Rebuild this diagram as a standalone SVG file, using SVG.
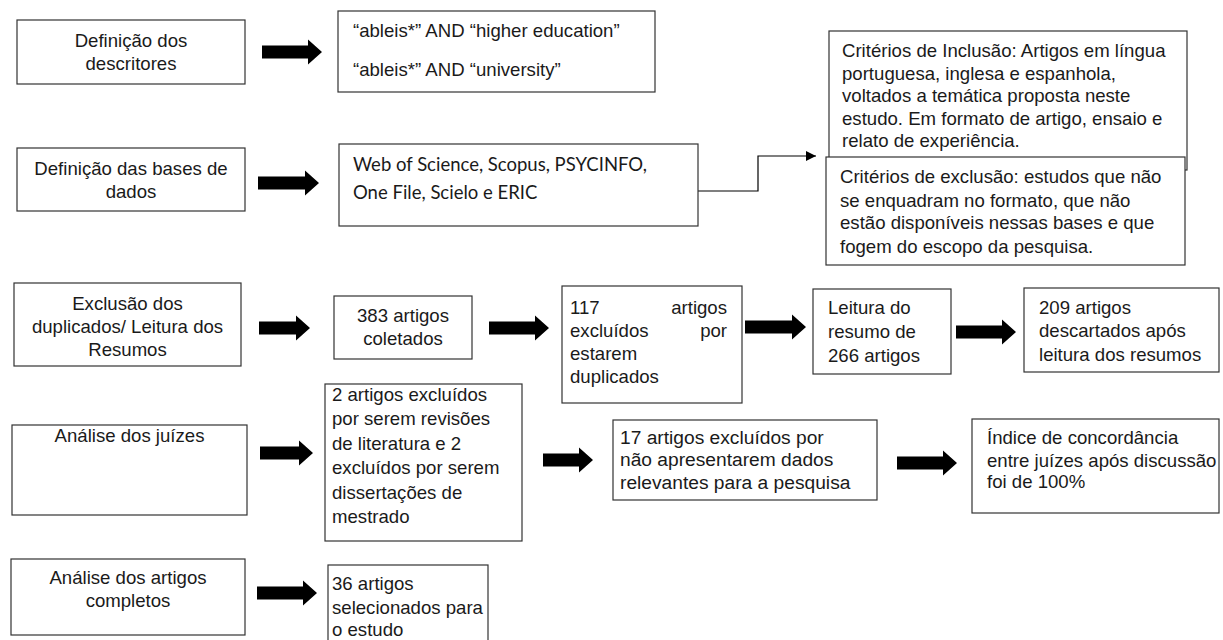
<svg xmlns="http://www.w3.org/2000/svg" width="1223" height="640" viewBox="0 0 1223 640">
<defs>
<style>
.box{fill:#fff;stroke:#333;stroke-width:1.2}
.t{font-family:"Liberation Sans",Arial,sans-serif;font-size:18.6px;fill:#1a1a1a}
.big{font-size:19.2px}
.c{text-anchor:middle}
.e{text-anchor:end}
.cal{font-family:Lato,"Open Sans",sans-serif;font-size:18.5px;fill:#1a1a1a}
.blk{fill:#000}
.ln{fill:none;stroke:#000;stroke-width:1.2}
</style>
<marker id="ah" viewBox="0 0 10 10" refX="10" refY="5" markerWidth="10" markerHeight="10" markerUnits="userSpaceOnUse" orient="auto">
<path d="M0,0 L10,5 L0,10 Z" fill="#000"/>
</marker>
</defs>
<rect width="1223" height="640" fill="#fff"/>

<g id="connectors">
<path class="blk" d="M262,45.5 H308 V39.5 L322,52 L308,64.5 V58.5 H262 Z"/>
<path class="blk" d="M258,176.5 H305 V170.5 L319,183 L305,195.5 V189.5 H258 Z"/>
<path class="blk" d="M259,321.5 H296 V315.5 L310,328 L296,340.5 V334.5 H259 Z"/>
<path class="blk" d="M489,321.5 H535 V315.5 L549,328 L535,340.5 V334.5 H489 Z"/>
<path class="blk" d="M745,320.5 H792 V314.5 L806,327 L792,339.5 V333.5 H745 Z"/>
<path class="blk" d="M956,325.5 H1002 V319.5 L1016,332 L1002,344.5 V338.5 H956 Z"/>
<path class="blk" d="M260,446.5 H299 V440.5 L313,453 L299,465.5 V459.5 H260 Z"/>
<path class="blk" d="M543,453.5 H579 V447.5 L593,460 L579,472.5 V466.5 H543 Z"/>
<path class="blk" d="M897,456.5 H943 V450.5 L957,463 L943,475.5 V469.5 H897 Z"/>
<path class="blk" d="M257,586.5 H303 V580.5 L317,593 L303,605.5 V599.5 H257 Z"/>
<polyline class="ln" points="698,191 758,191 758,156 816,156" marker-end="url(#ah)"/>
</g>

<g id="n-descritores">
<rect class="box" x="17" y="20" width="228" height="64"/>
<text class="t c" x="131" y="47">Definição dos</text>
<text class="t c" x="131" y="70">descritores</text>
</g>

<g id="n-termos">
<rect class="box" x="338" y="11" width="317" height="81"/>
<text class="t" x="353" y="37">“ableis*” AND “higher education”</text>
<text class="t" x="353" y="76">“ableis*” AND “university”</text>
</g>

<g id="n-inclusao">
<rect class="box" x="829" y="31" width="358" height="139"/>
<text class="t" x="842" y="57">Critérios de Inclusão: Artigos em língua</text>
<text class="t" x="842" y="79.5">portuguesa, inglesa e espanhola,</text>
<text class="t" x="842" y="102">voltados a temática proposta neste</text>
<text class="t" x="842" y="124.5">estudo. Em formato de artigo, ensaio e</text>
<text class="t" x="842" y="147">relato de experiência.</text>
</g>

<g id="n-exclusao">
<rect class="box" x="826" y="157" width="359" height="108"/>
<text class="t" x="840" y="183">Critérios de exclusão: estudos que não</text>
<text class="t" x="840" y="206.5">se enquadram no formato, que não</text>
<text class="t" x="840" y="229">estão disponíveis nessas bases e que</text>
<text class="t" x="840" y="252.5">fogem do escopo da pesquisa.</text>
</g>

<g id="n-bases">
<rect class="box" x="17" y="148" width="228" height="63"/>
<text class="t c" x="131" y="174.5">Definição das bases de</text>
<text class="t c" x="131" y="197.5">dados</text>
</g>

<g id="n-bases-lista">
<rect class="box" x="339" y="144" width="359" height="82"/>
<text class="cal" x="353" y="171">Web of Science, Scopus, PSYCINFO,</text>
<text class="cal" x="353" y="199">One File, Scielo e ERIC</text>
</g>

<g id="n-exclusao-dup">
<rect class="box" x="14" y="283" width="227" height="83"/>
<text class="t c" x="127.5" y="310">Exclusão dos</text>
<text class="t c" x="127.5" y="333">duplicados/ Leitura dos</text>
<text class="t c" x="127.5" y="356">Resumos</text>
</g>

<g id="n-383">
<rect class="box" x="334" y="296" width="138" height="63"/>
<text class="t c" x="403" y="321.5">383 artigos</text>
<text class="t c" x="403" y="344.5">coletados</text>
</g>

<g id="n-117">
<rect class="box" x="562" y="286" width="180" height="117"/>
<text class="t" x="570" y="313.5">117</text>
<text class="t e" x="727" y="313.5">artigos</text>
<text class="t" x="570" y="336.5">excluídos</text>
<text class="t e" x="727" y="336.5">por</text>
<text class="t" x="570" y="359.5">estarem</text>
<text class="t" x="570" y="382.5">duplicados</text>
</g>

<g id="n-leitura">
<rect class="box" x="813" y="289" width="138" height="85"/>
<text class="t" x="828" y="314">Leitura do</text>
<text class="t" x="828" y="338">resumo de</text>
<text class="t" x="828" y="362">266 artigos</text>
</g>

<g id="n-209">
<rect class="box" x="1024" y="288" width="195" height="84"/>
<text class="t" x="1039" y="313.5">209 artigos</text>
<text class="t" x="1039" y="337">descartados após</text>
<text class="t" x="1039" y="360.5">leitura dos resumos</text>
</g>

<g id="n-juizes">
<rect class="box" x="12" y="425" width="235" height="90"/>
<text class="t c" x="129.5" y="441.5">Análise dos juízes</text>
</g>

<g id="n-2artigos">
<rect class="box" x="325" y="384" width="197" height="157"/>
<text class="t" x="332" y="401">2 artigos excluídos</text>
<text class="t" x="332" y="425.4">por serem revisões</text>
<text class="t" x="332" y="449.8">de literatura e 2</text>
<text class="t" x="332" y="474.2">excluídos por serem</text>
<text class="t" x="332" y="498.6">dissertações de</text>
<text class="t" x="332" y="523">mestrado</text>
</g>

<g id="n-17">
<rect class="box" x="613" y="420" width="264" height="80"/>
<text class="t big" x="620" y="443.5">17 artigos excluídos por</text>
<text class="t big" x="620" y="466">não apresentarem dados</text>
<text class="t big" x="620" y="488.5">relevantes para a pesquisa</text>
</g>

<g id="n-indice">
<rect class="box" x="972" y="419" width="247" height="94"/>
<text class="t" x="987" y="443.5">Índice de concordância</text>
<text class="t" x="987" y="466.5">entre juízes após discussão</text>
<text class="t" x="987" y="488">foi de 100%</text>
</g>

<g id="n-completos">
<rect class="box" x="11" y="559" width="234" height="76"/>
<text class="t c" x="128" y="584">Análise dos artigos</text>
<text class="t c" x="128" y="607">completos</text>
</g>

<g id="n-36">
<rect class="box" x="328" y="565" width="160" height="80"/>
<text class="t" x="332" y="589.5">36 artigos</text>
<text class="t" x="332" y="613.5">selecionados para</text>
<text class="t" x="332" y="635.5">o estudo</text>
</g>
</svg>
